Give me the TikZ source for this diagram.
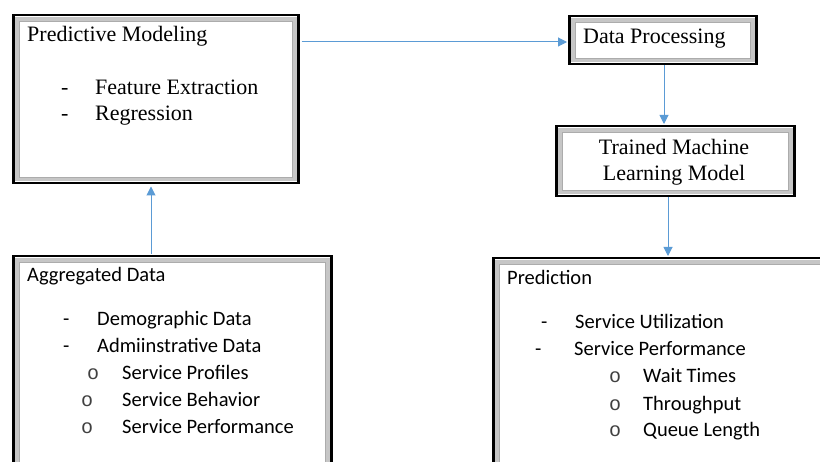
\documentclass[tikz,border=0pt]{standalone}
\usepackage{fontspec}
\setmainfont{Liberation Serif}
\newfontfamily\calfont{Carlito}
\newfontfamily\monofont{Liberation Mono}
\usetikzlibrary{arrows.meta}
\definecolor{arrowblue}{HTML}{5B9BD5}
\tikzset{
  box/.style={draw=black, line width=2.5pt, fill=white, inner sep=0pt, anchor=north west},
  bevel/.style={draw=gray!45, line width=4pt},
  innerline/.style={draw=gray!65, line width=0.6pt},
  serif/.style={font=\fontsize{22}{26}\selectfont, inner sep=0pt, anchor=base west},
  sans/.style={font=\calfont\fontsize{20.5}{24}\selectfont, inner sep=0pt, anchor=base west},
  bul/.style={font=\monofont\fontsize{20}{22}\selectfont, text=black!75, inner sep=0pt, anchor=base west},
  flow/.style={draw=arrowblue, line width=1pt, -{Triangle[length=9pt,width=9pt]}}
}
\newcommand{\bevelbox}[1]{%
  \draw[bevel] ([shift={(5,5)}]#1.north west) rectangle ([shift={(-5,-5)}]#1.south east);
  \draw[innerline] ([shift={(7.5,7.5)}]#1.north west) rectangle ([shift={(-7.5,-7.5)}]#1.south east);
}
\begin{document}
\begin{tikzpicture}[x=1pt,y=-1pt]
\useasboundingbox (0,0) rectangle (820,462);
\clip (0,0) rectangle (820,462);
\fill[white] (0,0) rectangle (820,462);

% boxes
\node[box, minimum width=285pt, minimum height=168pt] (pm) at (12,14) {};
\node[box, minimum width=187pt, minimum height=48pt] (dp) at (568,15) {};
\node[box, minimum width=238pt, minimum height=70pt] (tml) at (555,125) {};
\node[box, minimum width=318pt, minimum height=240pt] (ag) at (12,255) {};
\node[box, minimum width=350pt, minimum height=240pt] (pr) at (492,257) {};
\bevelbox{pm}
\bevelbox{dp}
\bevelbox{tml}
\bevelbox{ag}
\bevelbox{pr}

% texts: predictive modeling
\node[serif] (pmt) at (27,42) {Predictive Modeling};
\node[serif] (pmd1) at (61,95) {-};
\node[serif] (pm1) at (95,95) {Feature Extraction};
\node[serif] (pmd2) at (61,121) {-};
\node[serif] (pm2) at (95,121) {Regression};

% data processing
\node[serif] (dpt) at (583,44) {Data Processing};

% trained model
\node[serif, anchor=base] (tml1) at (674,155) {Trained Machine};
\node[serif, anchor=base] (tml2) at (674,181) {Learning Model};

% aggregated data
\node[sans] (agt) at (27,282) {Aggregated Data};
\node[sans] (agd1) at (63,326) {-};
\node[sans] (ag1) at (97,326) {Demographic Data};
\node[sans] (agd2) at (63,353) {-};
\node[sans] (ag2) at (97,353) {Admiinstrative Data};
\node[bul] (agb1) at (87,380) {o};
\node[sans] (ag3) at (122,380) {Service Profiles};
\node[bul] (agb2) at (81,407) {o};
\node[sans] (ag4) at (122,407) {Service Behavior};
\node[bul] (agb3) at (81,434) {o};
\node[sans] (ag5) at (122,434) {Service Performance};

% prediction
\node[sans] (prt) at (507,285) {Prediction};
\node[sans] (prd1) at (541,329) {-};
\node[sans] (pr1) at (575,329) {Service Utilization};
\node[sans] (prd2) at (535,356) {-};
\node[sans] (pr2) at (574,356) {Service Performance};
\node[bul] (prb1) at (609,383) {o};
\node[sans] (pr3) at (643,383) {Wait Times};
\node[bul] (prb2) at (609,410) {o};
\node[sans] (pr4) at (643,410) {Throughput};
\node[bul] (prb3) at (609,437) {o};
\node[sans] (pr5) at (643,437) {Queue Length};

% connectors
\draw[flow, shorten <=2pt, shorten >=1pt] (pm.east |- 0,42) -- (dp.west |- 0,42);
\draw[flow, shorten <=1pt, shorten >=2pt] (151,0 |- ag.north) -- (151,0 |- pm.south);
\draw[flow, shorten >=1pt] (664,0 |- dp.south) -- (664,0 |- tml.north);
\draw[flow, shorten >=1pt] (668,0 |- tml.south) -- (668,0 |- pr.north);
\end{tikzpicture}
\end{document}
